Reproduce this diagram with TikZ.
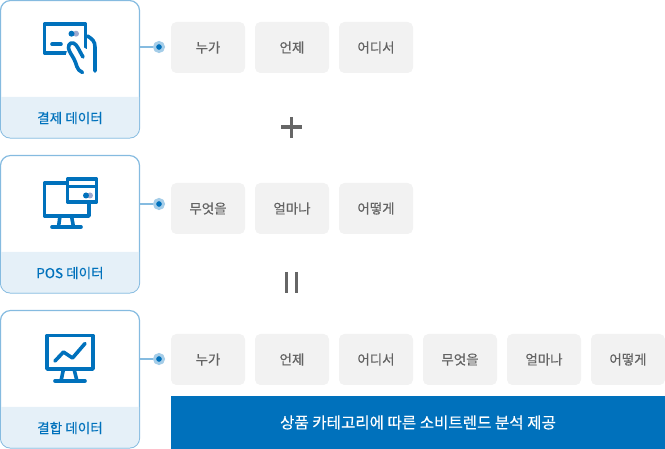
\documentclass[tikz,border=0pt]{standalone}
\usepackage{fontspec}
\usepackage{xcolor}
\setmainfont{Noto Sans CJK KR}
\newfontfamily\medfont[FakeBold=0.3]{Noto Sans CJK KR}
\definecolor{mainblue}{HTML}{0071BC}
\definecolor{edgeblue}{HTML}{85BBE0}
\definecolor{haloblue}{HTML}{A5CDE8}
\definecolor{footblue}{HTML}{E5F0F8}
\definecolor{tilegray}{HTML}{F2F2F2}
\definecolor{textgray}{HTML}{636363}
\definecolor{signgray}{HTML}{666666}
\definecolor{dotgray}{HTML}{9DA9CF}
\tikzset{
    card/.style={draw=edgeblue, line width=0.9pt, rounded corners=7.5pt, minimum width=104.25pt, minimum height=103.1pt, inner sep=0pt},
    cardtext/.style={text=mainblue, font=\medfont\fontsize{10.2}{12}\selectfont},
    tile/.style={fill=tilegray, rounded corners=4pt, minimum width=55.5pt, minimum height=38.25pt, inner sep=0pt, text=textgray, font=\medfont\fontsize{10.1}{12}\selectfont},
    dot/.style={circle, fill=mainblue, draw=haloblue, line width=2.2pt, minimum size=6.8pt, inner sep=0pt},
    link/.style={edgeblue, line width=1.2pt},
    icon/.style={mainblue, line width=2.7pt, line join=round, line cap=round},
    sign/.style={signgray, line width=2.5pt}
}
\begin{document}
\begin{tikzpicture}[x=0.75pt, y=-0.75pt]
        \useasboundingbox (0, 0) rectangle (665, 449);
        % cards
        \node[card] (pay) at (70, 69.25) {};
        \node[card] (pos) at (70, 224.25) {};
        \node[card] (mix) at (70, 379.25) {};
        \fill[footblue, rounded corners=7pt] (1, 97) [sharp corners] -- (1, 97) [rounded corners=7pt] -- (1, 137.6) -- (139, 137.6) [sharp corners] -- (139, 97) -- cycle;
        \fill[footblue, rounded corners=7pt] (1, 252) [sharp corners] -- (1, 252) [rounded corners=7pt] -- (1, 292.6) -- (139, 292.6) [sharp corners] -- (139, 252) -- cycle;
        \fill[footblue, rounded corners=7pt] (1, 407) [sharp corners] -- (1, 407) [rounded corners=7pt] -- (1, 447.6) -- (139, 447.6) [sharp corners] -- (139, 407) -- cycle;
        \node[cardtext] (paytext) at (70, 118) {결제 데이터};
        \node[cardtext] (postext) at (70, 273) {POS 데이터};
        \node[cardtext] (mixtext) at (70, 428) {결합 데이터};
        % links
        \node[dot] (paydot) at (159, 47) {};
        \node[dot] (posdot) at (159, 204) {};
        \node[dot] (mixdot) at (159, 359) {};
        \draw[link] (pay.east |- paydot) -- (paydot);
        \draw[link] (pos.east |- posdot) -- (posdot);
        \draw[link] (mix.east |- mixdot) -- (mixdot);
        % row 1
        \node[tile] (who) at (208, 47.5) {누가};
        \node[tile] (when) at (292, 47.5) {언제};
        \node[tile] (where) at (376, 47.5) {어디서};
        \draw[sign] (281, 127) -- (302, 127);
        \draw[sign] (291.6, 117) -- (291.6, 138);
        % row 2
        \node[tile] (what) at (208, 208.5) {무엇을};
        \node[tile] (much) at (292, 208.5) {얼마나};
        \node[tile] (how) at (376, 208.5) {어떻게};
        \draw[sign] (286.6, 272) -- (286.6, 293);
        \draw[sign] (296.6, 272) -- (296.6, 293);
        % row 3
        \node[tile] (who2) at (208, 359.5) {누가};
        \node[tile] (when2) at (292, 359.5) {언제};
        \node[tile] (where2) at (376, 359.5) {어디서};
        \node[tile] (what2) at (460, 359.5) {무엇을};
        \node[tile] (much2) at (544, 359.5) {얼마나};
        \node[tile] (how2) at (628, 359.5) {어떻게};
        \node[fill=mainblue, minimum width=370.5pt, minimum height=39.75pt, inner sep=0pt, text=white, font=\medfont\fontsize{11.7}{14}\selectfont] (result) at (418, 422.5) {상품 카테고리에 따른 소비트렌드 분석 제공};
        % card icon
        \draw[icon, line cap=butt] (44.5, 24) rectangle (85.5, 53);
        \draw[icon] (52, 44.3) -- (61, 44.3);
        \fill[dotgray] (76, 33.7) circle (3);
        \fill[mainblue] (71.5, 33.7) circle (3);
        \fill[white] (66, 54.5) -- (70, 39) -- (88, 50) -- (84, 75) -- (74, 72) -- cycle;
        \draw[icon] (87.5, 36) .. controls (92, 39) and (95, 41) .. (95, 47) -- (95, 71);
        \draw[icon] (82.5, 72.5) .. controls (76, 70) and (77, 64) .. (74, 59) .. controls (72, 55) and (69, 52) .. (68.5, 48) .. controls (68, 43) and (73, 41) .. (76, 45) .. controls (79, 49) and (80, 52) .. (83, 57);
        % pos icon
        \draw[icon, line cap=butt] (44.5, 183) rectangle (89, 216);
        \draw[icon] (60, 216) -- (58.5, 227);
        \draw[icon] (71.5, 216) -- (73.5, 227);
        \draw[icon] (52, 227) -- (81, 227);
        \draw[icon, line cap=butt, fill=white] (67.5, 179) rectangle (96.5, 202);
        \draw[icon, line cap=butt] (67.5, 186.5) -- (96.5, 186.5);
        \fill[dotgray] (90, 195.5) circle (3);
        \fill[mainblue] (86, 195.5) circle (3);
        % mix icon
        \draw[icon, line cap=butt] (47, 335.5) rectangle (93, 369);
        \draw[icon] (55, 361) -- (63.5, 352) -- (72.5, 358) -- (85, 343.5);
        \draw[icon] (63.5, 369) -- (61, 381);
        \draw[icon] (74, 369) -- (77, 381);
        \draw[icon] (55, 381) -- (85, 381);
    \end{tikzpicture}
\end{document}
